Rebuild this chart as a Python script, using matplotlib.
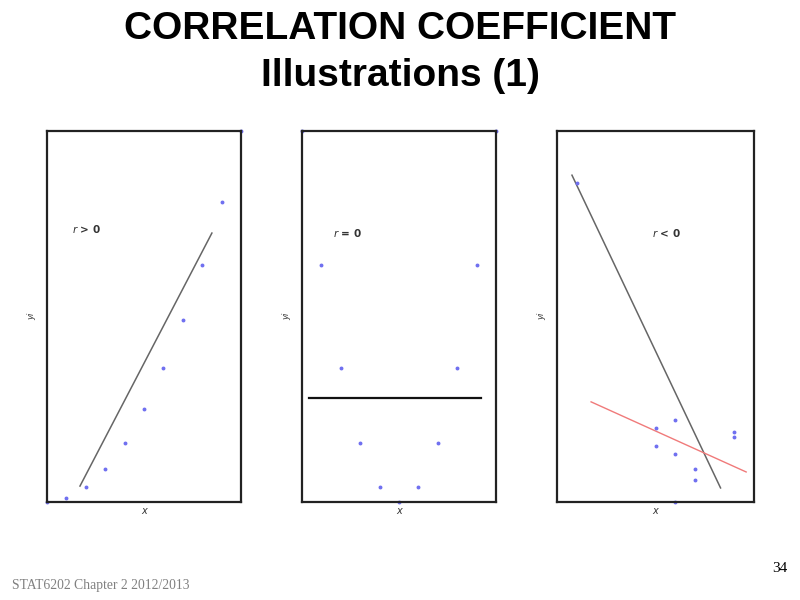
import matplotlib
matplotlib.use("Agg")
import matplotlib.pyplot as plt

# panel 1: r > 0
x_pos = [0, 1, 2, 3, 4, 5, 6, 7, 8, 9, 10]
y_pos = [0, 1, 4, 9, 16, 25, 36, 49, 64, 81, 100]
line_pos_x = [1.7, 8.5]
line_pos_y = [4.3, 72.5]

# panel 2: r = 0
x_zero = [-5, -4, -3, -2, -1, 0, 1, 2, 3, 4, 5]
y_zero = [100, 64, 36, 16, 4, 0, 4, 16, 36, 64, 100]
line_zero_x = [-4.64, 4.23]
line_zero_y = [28, 28]

# panel 3: r < 0
x_neg = [1, 5, 5, 6, 6, 7, 7, 6, 9, 9]
y_neg = [86, 20, 15, 22, 13, 9, 6, 0, 19, 17.5]
line_neg_x = [0.76, 8.3]
line_neg_y = [88.1, 3.8]
red_neg_x = [1.73, 9.6]
red_neg_y = [27, 8.1]

labels = [r"$r$ > 0", r"$r$ = 0", r"$r$ < 0"]

fig = plt.figure(figsize=(8, 6), dpi=100)

fig.text(0.5, 0.935, "CORRELATION COEFFICIENT", ha="center", va="baseline",
         fontsize=28, fontweight="bold", family="Liberation Sans")
fig.text(0.5, 0.857, "Illustrations (1)", ha="center", va="baseline",
         fontsize=28, fontweight="bold", family="Liberation Sans")

fig.text(0.015, 0.025, "STAT6202 Chapter 2 2012/2013", ha="left", va="center",
         fontsize=9.8, color="#808080", family="Liberation Serif")
fig.text(0.984, 0.053, "34", ha="right", va="center",
         fontsize=11, color="black", family="Liberation Serif")

rects = [
    [0.05875, 0.1633, 0.2425, 0.6183],
    [0.3775, 0.1633, 0.2425, 0.6183],
    [0.69625, 0.1633, 0.2463, 0.6183],
]
xlims = [(0, 10), (-5, 5), (0, 10)]
label_pos = [(0.13, 0.736), (0.16, 0.725), (0.48, 0.725)]

axes = [fig.add_axes(r) for r in rects]
for ax, xl, lab, lp in zip(axes, xlims, labels, label_pos):
    ax.set_xlim(*xl)
    ax.set_ylim(0, 100)
    ax.set_xticks([])
    ax.set_yticks([])
    for s in ax.spines.values():
        s.set_linewidth(1.6)
        s.set_color("#222222")
    ax.set_xlabel("x", fontsize=7, style="italic", labelpad=3, color="#333333")
    ax.set_ylabel("yi", fontsize=6, style="italic", labelpad=8, color="#333333")
    ax.text(lp[0], lp[1], lab, transform=ax.transAxes,
            fontsize=7.5, fontweight="bold", color="#333333", va="center")

dot = dict(linestyle="none", marker="o", markersize=1.8, color="#7070f0",
           clip_on=False)

ax = axes[0]
ax.plot(line_pos_x, line_pos_y, color="#666666", lw=1.1)
ax.plot(x_pos, y_pos, **dot)

ax = axes[1]
ax.plot(line_zero_x, line_zero_y, color="#111111", lw=1.6)
ax.plot(x_zero, y_zero, **dot)

ax = axes[2]
ax.plot(line_neg_x, line_neg_y, color="#666666", lw=1.1)
ax.plot(red_neg_x, red_neg_y, color="#f07a7a", lw=1.0)
ax.plot(x_neg, y_neg, **dot)

fig.savefig("out.png", dpi=100)
